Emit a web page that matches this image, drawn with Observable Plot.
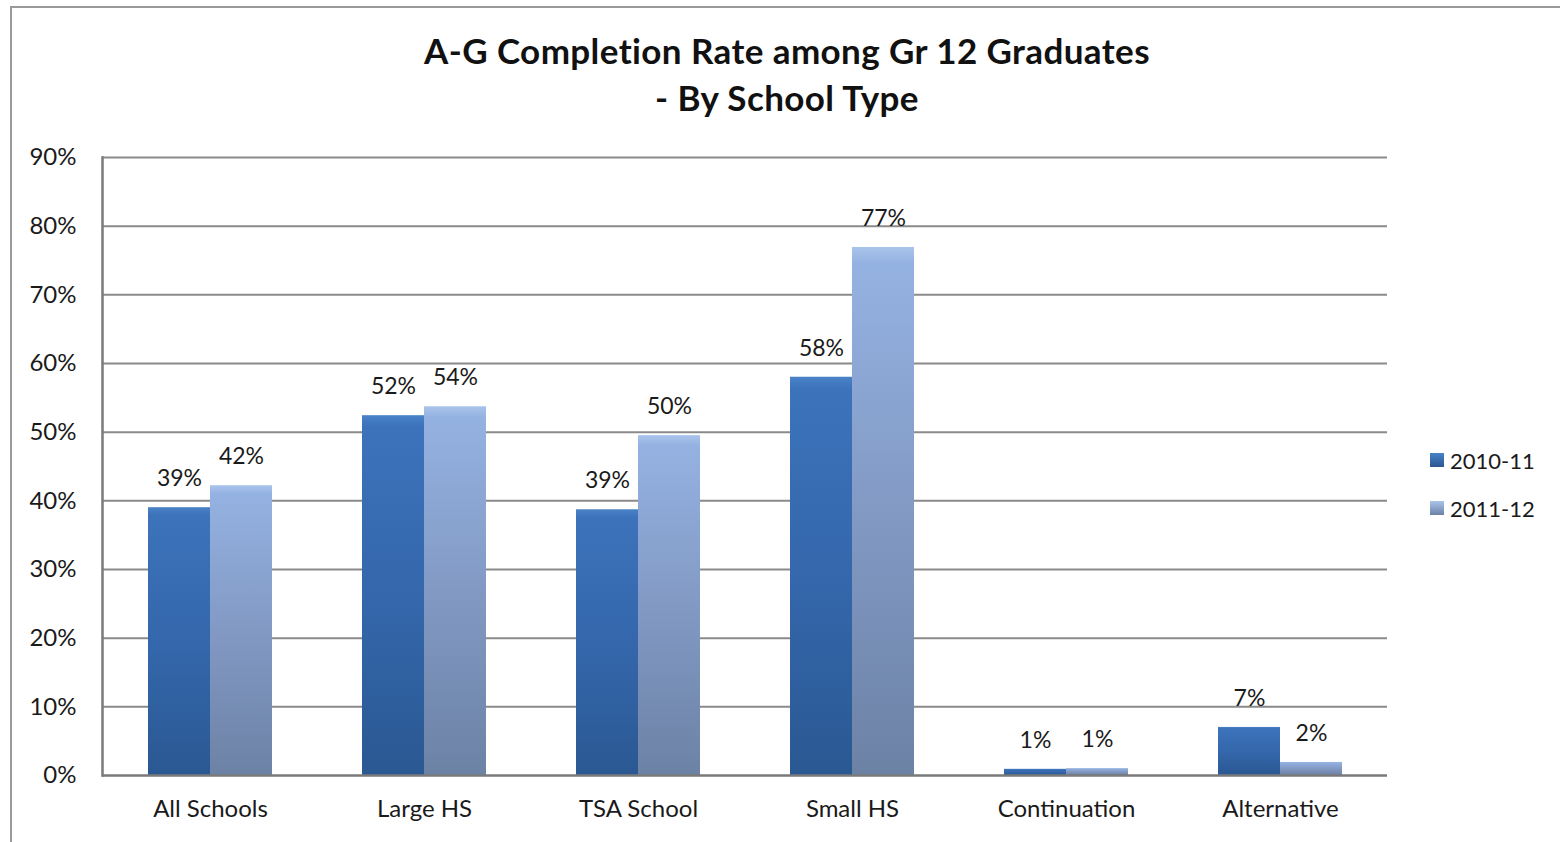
<!DOCTYPE html>
<html>
<head>
<meta charset="utf-8">
<script src="https://cdn.jsdelivr.net/npm/d3@7"></script>
<script src="https://cdn.jsdelivr.net/npm/@observablehq/plot@0.6"></script>
<style>
  html, body { margin: 0; padding: 0; background: #fff; }
  body { width: 1560px; height: 842px; overflow: hidden; position: relative; font-family: Lato, "Open Sans", sans-serif; color: #1a1a1a; }
  #frame { position: absolute; left: 10px; top: 6px; width: 1600px; height: 900px; border-left: 2px solid #9a9a9a; border-top: 2px solid #9a9a9a; pointer-events: none; }
  #title { height: 140px; box-sizing: border-box; padding-top: 27px; padding-left: 14px; text-align: center; font-weight: bold; font-size: 35px; letter-spacing: 0.4px; line-height: 47px; color: #111; }
  #legend { position: absolute; left: 1430px; top: 436px; font-size: 22px; }
  .item { display: flex; align-items: center; height: 48px; }
  .sw { width: 14px; height: 14px; margin-right: 6px; }
</style>
</head>
<body>
<div id="frame"></div>
<div id="title">A-G Completion Rate among Gr 12 Graduates<br>- By School Type</div>
<div id="chart"></div>
<div id="legend"></div>
<script>
const categories = ["All Schools", "Large HS", "TSA School", "Small HS", "Continuation", "Alternative"];
const seriesNames = ["2010-11", "2011-12"];
const values2010 = [39.0, 52.4, 38.7, 58.0, 0.9, 7.0];
const values2011 = [42.2, 53.7, 49.5, 76.9, 1.0, 1.9];
const labels2010 = ["39%", "52%", "39%", "58%", "1%", "7%"];
const labels2011 = ["42%", "54%", "50%", "77%", "1%", "2%"];
const yTicks = [0, 10, 20, 30, 40, 50, 60, 70, 80, 90];
const seriesColors = ["url(#gDark)", "url(#gLight)"];

const data = [];
categories.forEach((c, i) => {
  data.push({category: c, series: seriesNames[0], value: values2010[i], label: labels2010[i]});
  data.push({category: c, series: seriesNames[1], value: values2011[i], label: labels2011[i]});
});
const d1 = data.filter(d => d.series === seriesNames[0]);
const d2 = data.filter(d => d.series === seriesNames[1]);

const chart = Plot.plot({
  width: 1560,
  height: 702,
  marginLeft: 102,
  marginRight: 173,
  marginTop: 17,
  marginBottom: 67,
  style: {fontFamily: "Lato, 'Open Sans', sans-serif", color: "#1a1a1a", background: "transparent"},
  x: {domain: categories, padding: 0, label: null},
  y: {domain: [0, 90], ticks: yTicks, label: null},
  color: {domain: seriesNames, range: seriesColors},
  marks: [
    Plot.ruleY(yTicks.filter(t => t > 0), {y: d => d, stroke: "#8a8a8a", strokeWidth: 2, strokeOpacity: 1}),
    Plot.barY(d1, {x: "category", y: "value", fill: "series", insetLeft: 45, insetRight: 107}),
    Plot.barY(d2, {x: "category", y: "value", fill: "series", insetLeft: 107, insetRight: 45}),
    Plot.text(d1, {x: "category", y: "value", text: "label", dx: -31, dy: -29, fontSize: 23, fill: "#1a1a1a"}),
    Plot.text(d2, {x: "category", y: "value", text: "label", dx: 31, dy: -29, fontSize: 23, fill: "#1a1a1a"}),
    Plot.ruleY([0], {stroke: "#7a7a7a", strokeWidth: 2.5}),
    Plot.frame({anchor: "left", stroke: "#7a7a7a", strokeWidth: 2.5}),
    Plot.axisY({ticks: yTicks, tickFormat: d => d + "%", tickSize: 0, tickPadding: 26, fontSize: 24, label: null}),
    Plot.axisX({tickSize: 0, tickPadding: 24, fontSize: 24, label: null})
  ]
});

const ns = "http://www.w3.org/2000/svg";
const defs = document.createElementNS(ns, "defs");
defs.innerHTML = `
  <linearGradient id="gDark" x1="0" y1="0" x2="0" y2="1">
    <stop offset="0" stop-color="#4a82c8"/>
    <stop offset="0.03" stop-color="#3c73ba"/>
    <stop offset="0.5" stop-color="#3467ac"/>
    <stop offset="1" stop-color="#2a5892"/>
  </linearGradient>
  <linearGradient id="gLight" x1="0" y1="0" x2="0" y2="1">
    <stop offset="0" stop-color="#a9c4ec"/>
    <stop offset="0.03" stop-color="#94b2e1"/>
    <stop offset="0.5" stop-color="#8299c4"/>
    <stop offset="1" stop-color="#6c82a5"/>
  </linearGradient>`;
chart.insertBefore(defs, chart.firstChild);
document.getElementById("chart").appendChild(chart);

const legend = document.getElementById("legend");
const cssGrad = ["linear-gradient(#4a82c8, #2a5892)", "linear-gradient(#a9c4ec, #6c82a5)"];
seriesNames.forEach((s, i) => {
  const item = document.createElement("div");
  item.className = "item";
  item.innerHTML = `<div class="sw" style="background:${cssGrad[i]}"></div><span>${s}</span>`;
  legend.appendChild(item);
});
</script>
</body>
</html>
